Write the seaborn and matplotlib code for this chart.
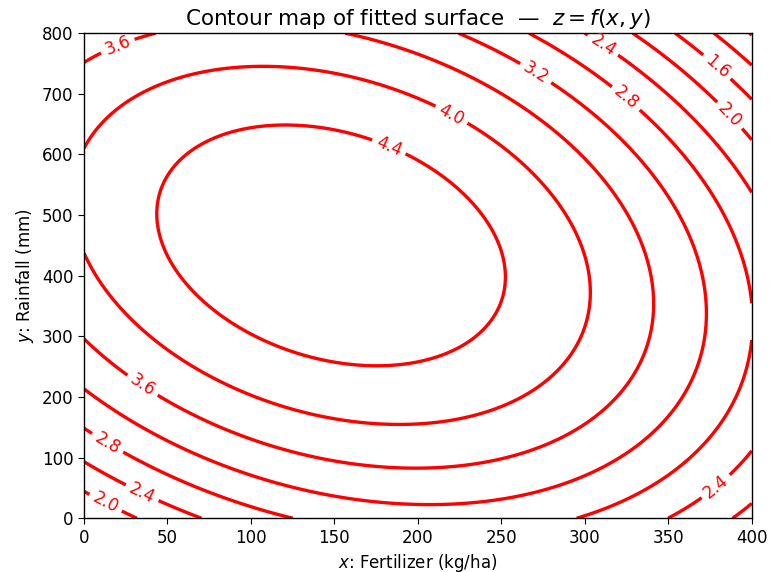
import numpy as np
import matplotlib
matplotlib.use('Agg')
import matplotlib.pyplot as plt
import seaborn as sns

# fitted quadratic surface:
# z = z_peak - a_xx*dx^2 - a_yy*dy^2 - a_xy*dx*dy,  dx = x - x_peak, dy = y - y_peak
x_peak = 148.0
y_peak = 450.0
z_peak = 4.73
a_xx = 3.25e-5
a_yy = 8.99e-6
a_xy = 8.97e-6

x_range = [0, 400]
y_range = [0, 800]
levels = [0.8, 1.2, 1.6, 2.0, 2.4, 2.8, 3.2, 3.6, 4.0, 4.4]
x_ticks = [0, 50, 100, 150, 200, 250, 300, 350, 400]
y_ticks = [0, 100, 200, 300, 400, 500, 600, 700, 800]

# where the inline contour labels sit
label_spots = [(20, 780), (183, 615), (220, 665), (271, 736), (312, 785),
               (325, 694), (379, 744), (387, 665), (35, 219), (14, 124),
               (35, 43), (13, 26), (378, 54)]

sns.set_style('ticks', {'axes.labelcolor': 'black', 'xtick.color': 'black',
                        'ytick.color': 'black', 'text.color': 'black',
                        'axes.edgecolor': 'black'})
plt.rcParams['font.family'] = ['DejaVu Sans']

xs = np.linspace(x_range[0], x_range[1], 401)
ys = np.linspace(y_range[0], y_range[1], 801)
X, Y = np.meshgrid(xs, ys)
dx = X - x_peak
dy = Y - y_peak
Z = z_peak - a_xx * dx**2 - a_yy * dy**2 - a_xy * dx * dy

fig, ax = plt.subplots(figsize=(7.71, 5.72), dpi=100)
fig.subplots_adjust(left=0.109, right=0.975, top=0.942, bottom=0.094)

cs = ax.contour(X, Y, Z, levels=levels, colors='red', linewidths=2.4)
ax.clabel(cs, inline=True, fontsize=12, fmt='%.1f', manual=label_spots)

ax.set_xlim(x_range)
ax.set_ylim(y_range)
ax.set_xticks(x_ticks)
ax.set_yticks(y_ticks)
ax.tick_params(labelsize=12, direction='out', length=4, color='black')
for s in ax.spines.values():
    s.set_visible(True)
    s.set_color('black')
    s.set_linewidth(1.0)

ax.set_xlabel('$x$: Fertilizer (kg/ha)', fontsize=12)
ax.set_ylabel('$y$: Rainfall (mm)', fontsize=12)
ax.set_title('Contour map of fitted surface  —  $z = f(x, y)$', fontsize=15.5)

fig.savefig('out.png', dpi=100)
